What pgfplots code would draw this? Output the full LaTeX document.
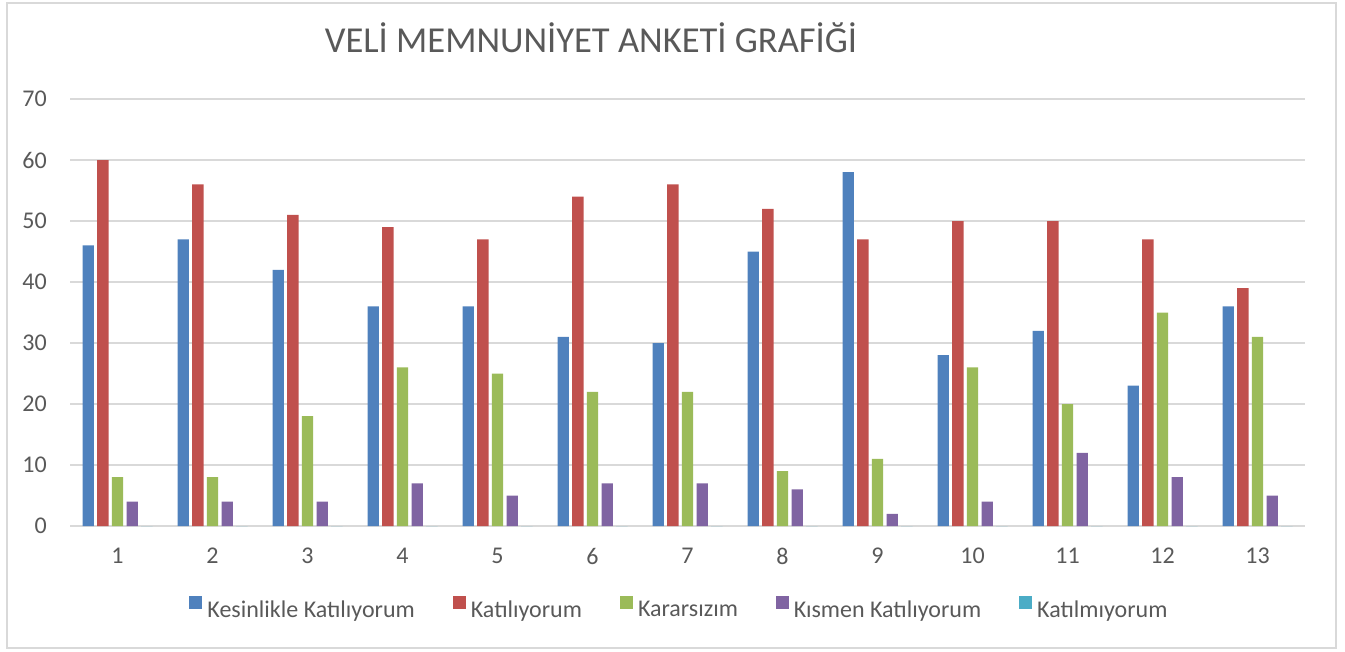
\documentclass[border=0pt]{standalone}
\usepackage{pgfplots}
\pgfplotsset{compat=1.18}
\usepackage{pgfplotstable}
\usepackage{fontspec}
\setmainfont{Carlito}
\definecolor{cBlue}{HTML}{4F81BD}
\definecolor{cRed}{HTML}{C0504D}
\definecolor{cGreen}{HTML}{9BBB59}
\definecolor{cPurple}{HTML}{8064A2}
\definecolor{cTeal}{HTML}{4BACC6}
\definecolor{cText}{HTML}{595959}
\definecolor{cGrid}{HTML}{D9D9D9}

\pgfplotstableread{
x  kes  kat  kar  kis  katm
1  46   60   8    4    0
2  47   56   8    4    0
3  42   51   18   4    0
4  36   49   26   7    0
5  36   47   25   5    0
6  31   54   22   7    0
7  30   56   22   7    0
8  45   52   9    6    0
9  58   47   11   2    0
10 28   50   26   4    0
11 32   50   20   12   0
12 23   47   35   8    0
13 36   39   31   5    0
}\datatable

\begin{document}
\begin{tikzpicture}
\path[use as bounding box] (0pt,0pt) rectangle (1008.75pt,488.25pt);
\draw[cGrid, line width=1.3pt] (5.25pt,2.25pt) rectangle (1002pt,486pt);
\node[anchor=base, text=cText, font=\fontsize{27.4}{30}\selectfont] at (443.25pt,448.5pt) {VELİ MEMNUNİYET ANKETİ GRAFİĞİ};
\begin{axis}[
  at={(52.5pt,93.75pt)}, anchor=south west,
  scale only axis, width=926.25pt, height=320.25pt,
  ybar=2.5pt, bar width=8.5pt,
  xmin=0.5, xmax=13.5, ymin=0, ymax=70,
  xtick={1,...,13}, ytick={0,10,...,70},
  major tick length=0pt,
  axis line style={draw=none},
  ymajorgrids, grid style={cGrid, line width=1.2pt},
  /pgf/number format/assume math mode=true,
  ticklabel style={text=cText, font=\fontsize{18}{20}\selectfont, inner sep=0pt},
  yticklabel style={anchor=east, xshift=-17.25pt},
  xticklabel style={anchor=north, yshift=-16.5pt},
  legend columns=5,
  legend style={at={(0.4927,-0.192)}, anchor=center, draw=none, fill=none,
    font=\fontsize{18}{20}\selectfont, text=cText, nodes={inner sep=0pt},
    /tikz/every odd column/.append style={column sep=3.75pt},
    /tikz/every even column/.append style={column sep=28.5pt}},
  legend image code/.code={\fill[#1] (0pt,0.6pt) rectangle (9.75pt,10.35pt);},
  every axis plot/.append style={draw=none},
]
\addplot[fill=cBlue] table[x=x,y=kes] {\datatable};
\addplot[fill=cRed] table[x=x,y=kat] {\datatable};
\addplot[fill=cGreen] table[x=x,y=kar] {\datatable};
\addplot[fill=cPurple] table[x=x,y=kis] {\datatable};
\addplot[fill=cTeal] table[x=x,y=katm] {\datatable};
\legend{Kesinlikle Katılıyorum, Katılıyorum, Kararsızım, Kısmen Katılıyorum, Katılmıyorum}
\end{axis}
\end{tikzpicture}
\end{document}
